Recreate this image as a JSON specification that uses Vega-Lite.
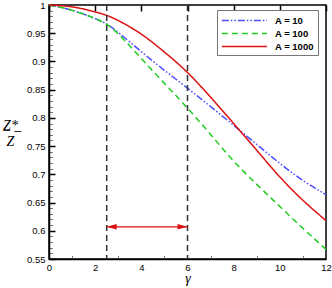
{
  "$schema": "https://vega.github.io/schema/vega-lite/v6.json",
  "width": 277,
  "height": 254,
  "autosize": "none",
  "padding": {"left": 49, "top": 5, "right": 6, "bottom": 29},
  "background": "white",
  "config": {
    "view": {"stroke": "#000", "strokeWidth": 1.5},
    "axis": {
      "domainColor": "#000", "domainWidth": 1.5, "tickColor": "#000", "grid": false,
      "labelFont": "Liberation Sans", "labelFontSize": 9.5, "labelColor": "#000"
    },
    "legend": {
      "orient": "none", "legendX": 168, "legendY": 5, "strokeColor": "#777", "fillColor": "white",
      "padding": 4, "symbolType": "M-1,0L7,0", "symbolSize": 127, "symbolStrokeWidth": 1.5,
      "labelFont": "Liberation Sans", "labelFontWeight": "bold", "labelFontSize": 9.5,
      "labelColor": "#000", "rowPadding": 2, "labelOffset": 41
    }
  },
  "datasets": {
    "curves": [
      {"series": "A = 10", "g": 0, "z": 1.0},
      {"series": "A = 10", "g": 0.5, "z": 0.996},
      {"series": "A = 10", "g": 1, "z": 0.991},
      {"series": "A = 10", "g": 1.5, "z": 0.984},
      {"series": "A = 10", "g": 2, "z": 0.976},
      {"series": "A = 10", "g": 2.5, "z": 0.967},
      {"series": "A = 10", "g": 3, "z": 0.952},
      {"series": "A = 10", "g": 4, "z": 0.917},
      {"series": "A = 10", "g": 5, "z": 0.884},
      {"series": "A = 10", "g": 6, "z": 0.853},
      {"series": "A = 10", "g": 7, "z": 0.82},
      {"series": "A = 10", "g": 8, "z": 0.787},
      {"series": "A = 10", "g": 9, "z": 0.753},
      {"series": "A = 10", "g": 10, "z": 0.719},
      {"series": "A = 10", "g": 11, "z": 0.688},
      {"series": "A = 10", "g": 12, "z": 0.664},
      {"series": "A = 100", "g": 0, "z": 1.0},
      {"series": "A = 100", "g": 0.5, "z": 0.996},
      {"series": "A = 100", "g": 1, "z": 0.991},
      {"series": "A = 100", "g": 1.5, "z": 0.984},
      {"series": "A = 100", "g": 2, "z": 0.976},
      {"series": "A = 100", "g": 2.5, "z": 0.967},
      {"series": "A = 100", "g": 3, "z": 0.95},
      {"series": "A = 100", "g": 4, "z": 0.905},
      {"series": "A = 100", "g": 5, "z": 0.861},
      {"series": "A = 100", "g": 6, "z": 0.818},
      {"series": "A = 100", "g": 7, "z": 0.771},
      {"series": "A = 100", "g": 8, "z": 0.722},
      {"series": "A = 100", "g": 9, "z": 0.682},
      {"series": "A = 100", "g": 10, "z": 0.643},
      {"series": "A = 100", "g": 11, "z": 0.604},
      {"series": "A = 100", "g": 12, "z": 0.567},
      {"series": "A = 1000", "g": 0, "z": 1.0},
      {"series": "A = 1000", "g": 0.5, "z": 0.999},
      {"series": "A = 1000", "g": 1, "z": 0.997},
      {"series": "A = 1000", "g": 1.5, "z": 0.993},
      {"series": "A = 1000", "g": 2, "z": 0.988},
      {"series": "A = 1000", "g": 2.5, "z": 0.982},
      {"series": "A = 1000", "g": 3, "z": 0.973},
      {"series": "A = 1000", "g": 4, "z": 0.95},
      {"series": "A = 1000", "g": 5, "z": 0.917},
      {"series": "A = 1000", "g": 6, "z": 0.882},
      {"series": "A = 1000", "g": 7, "z": 0.837},
      {"series": "A = 1000", "g": 8, "z": 0.79},
      {"series": "A = 1000", "g": 9, "z": 0.743},
      {"series": "A = 1000", "g": 10, "z": 0.694},
      {"series": "A = 1000", "g": 11, "z": 0.653},
      {"series": "A = 1000", "g": 12, "z": 0.618}
    ],
    "bounds": [{"g": 2.5}, {"g": 6}],
    "span": [{"g": 2.5, "g2": 6, "z": 0.607}],
    "heads": [
      {"g": 2.5, "z": 0.607, "dir": "left"},
      {"g": 6, "z": 0.607, "dir": "right"}
    ]
  },
  "layer": [
    {
      "data": {"name": "curves"},
      "mark": {"type": "line", "strokeWidth": 1.5, "interpolate": "basis"},
      "encoding": {
        "x": {
          "field": "g", "type": "quantitative",
          "scale": {"domain": [0, 12], "nice": false, "zero": false},
          "axis": {
            "orient": "bottom", "values": [0, 2, 4, 6, 8, 10, 12], "ticks": false,
            "grid": true, "gridColor": "#000", "gridWidth": 1.5, "gridDash": [6, 1000], "gridOpacity": 1,
            "labelPadding": 3, "labelFlush": false,
            "title": "γ", "titleFont": "Liberation Serif", "titleFontStyle": "italic",
            "titleFontWeight": "normal", "titleFontSize": 14, "titlePadding": 0, "titleColor": "#000"
          }
        },
        "y": {
          "field": "z", "type": "quantitative",
          "scale": {"domain": [0.55, 1], "nice": false, "zero": false},
          "axis": {
            "orient": "left", "values": [0.55, 0.6, 0.65, 0.7, 0.75, 0.8, 0.85, 0.9, 0.95, 1],
            "format": "~g", "ticks": false,
            "grid": true, "gridColor": "#000", "gridWidth": 1.5, "gridDash": [6, 1000], "gridOpacity": 1,
            "labelPadding": 4, "labelFlush": false,
            "title": ["Z̲*̲", "Z"], "titleAngle": 0, "titleFont": "Liberation Serif",
            "titleFontStyle": "italic", "titleFontWeight": "normal", "titleFontSize": 14,
            "titleAlign": "center", "titleBaseline": "middle", "titleX": -39, "titleY": 120,
            "titleLineHeight": 16, "titleColor": "#000"
          }
        },
        "color": {
          "field": "series", "type": "nominal",
          "scale": {"domain": ["A = 10", "A = 100", "A = 1000"], "range": ["#4d4dff", "#22cc22", "#dd1111"]},
          "legend": {"title": null}
        },
        "strokeDash": {
          "field": "series", "type": "nominal",
          "scale": {"domain": ["A = 10", "A = 100", "A = 1000"], "range": [[7, 2, 1.5, 2, 1.5, 2], [6, 4], [1, 0]]},
          "legend": {"title": null}
        }
      }
    },
    {
      "data": {"name": "bounds"},
      "mark": {"type": "rule", "strokeDash": [6, 4], "color": "#333", "strokeWidth": 1.5},
      "encoding": {
        "x": {
          "field": "g", "type": "quantitative",
          "axis": {
            "orient": "bottom", "values": [1, 3, 5, 7, 9, 11], "ticks": false, "labels": false,
            "domain": false, "title": null,
            "grid": true, "gridColor": "#777", "gridWidth": 1, "gridDash": [3.5, 1000], "gridOpacity": 1
          }
        }
      }
    },
    {
      "data": {"name": "span"},
      "mark": {"type": "rule", "color": "#dd1111", "strokeWidth": 1.2},
      "encoding": {
        "x": {"field": "g", "type": "quantitative", "axis": null},
        "x2": {"field": "g2"},
        "y": {
          "field": "z", "type": "quantitative",
          "axis": {
            "orient": "left",
            "values": [0.56, 0.57, 0.58, 0.59, 0.61, 0.62, 0.63, 0.64, 0.66, 0.67, 0.68, 0.69, 0.71, 0.72, 0.73, 0.74, 0.76, 0.77, 0.78, 0.79, 0.81, 0.82, 0.83, 0.84, 0.86, 0.87, 0.88, 0.89, 0.91, 0.92, 0.93, 0.94, 0.96, 0.97, 0.98, 0.99],
            "ticks": false, "labels": false, "domain": false, "title": null,
            "grid": true, "gridColor": "#777", "gridWidth": 1, "gridDash": [3.5, 1000], "gridOpacity": 1
          }
        }
      }
    },
    {
      "data": {"name": "heads"},
      "mark": {"type": "point", "filled": true, "color": "#dd1111", "opacity": 1, "size": 100},
      "encoding": {
        "x": {"field": "g", "type": "quantitative", "axis": null},
        "y": {"field": "z", "type": "quantitative", "axis": null},
        "shape": {
          "field": "dir", "type": "nominal",
          "scale": {"domain": ["left", "right"], "range": ["M0,0L2,-0.55L2,0.55Z", "M0,0L-2,-0.55L-2,0.55Z"]},
          "legend": null
        }
      }
    }
  ],
  "resolve": {"axis": {"x": "independent", "y": "independent"}}
}
